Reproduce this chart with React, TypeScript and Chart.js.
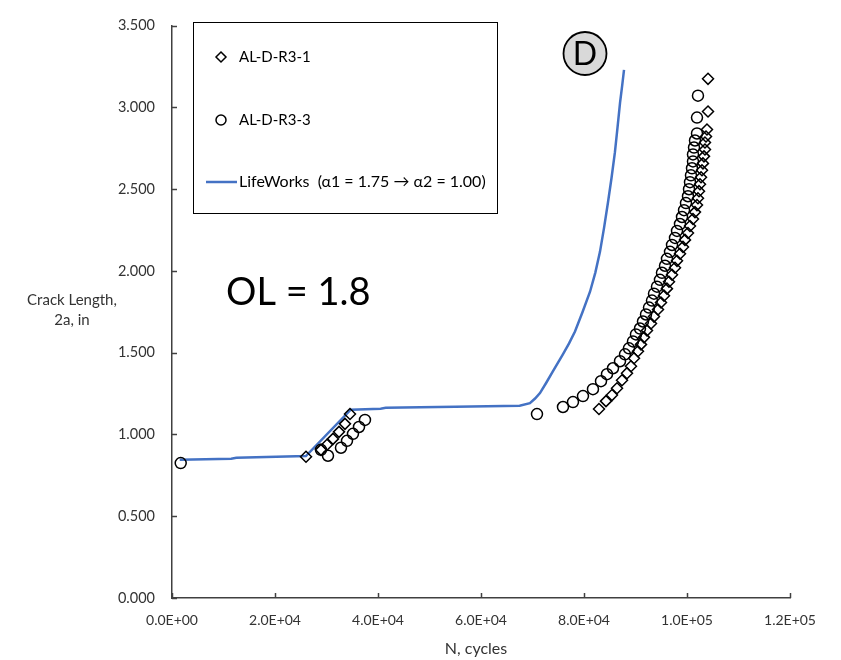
import React, { useEffect, useRef } from 'react';
import { Chart, registerables } from 'chart.js';

Chart.register(...registerables);

const FONT = 'Lato, "Open Sans", "DejaVu Sans", sans-serif';
const AXIS_COLOR = '#404040';
const TEXT_COLOR = '#333333';
const BLUE = '#4472C4';

// ---- Data ----
// AL-D-R3-1 (diamonds)
const r31N = [
  26020, 28930, 30100, 31260, 32430, 33590, 34560,
  82910, 84270, 85430, 86410, 87380, 88350, 89120, 89710, 90480, 91070,
  91650, 92230, 93010, 93590, 94370, 94950, 95530, 96110, 96500, 97090,
  97670, 98060, 98640, 99220, 99610, 100190, 100580, 101160, 101550, 101940,
  102130, 102330, 102520, 102720, 102910, 103100, 103300, 103490, 103490,
  103690, 103880, 104080, 104080,
];
const r31A = [
  0.864, 0.906, 0.937, 0.973, 1.016, 1.065, 1.125,
  1.156, 1.204, 1.241, 1.283, 1.332, 1.375, 1.417, 1.466, 1.509, 1.551,
  1.594, 1.636, 1.679, 1.721, 1.764, 1.807, 1.849, 1.892, 1.934, 1.977,
  2.020, 2.062, 2.105, 2.147, 2.190, 2.232, 2.275, 2.318, 2.360, 2.403,
  2.445, 2.488, 2.530, 2.573, 2.616, 2.658, 2.701, 2.743, 2.786,
  2.822, 2.865, 2.975, 3.175,
];

// AL-D-R3-3 (circles)
const r33N = [
  1690, 28930, 30290, 32810, 33980, 35140, 36310, 37470, 70870,
  75920, 77860, 79800, 81740, 83300, 84460, 85630, 86990, 87960, 88730,
  89510, 90090, 90870, 91450, 92040, 92620, 93200, 93590, 94170, 94750,
  95140, 95730, 96110, 96700, 97090, 97670, 98060, 98640, 99030, 99420,
  99800, 100190, 100390, 100580, 100770, 100970, 101160, 101160, 101360,
  101550, 101940, 101940, 102130,
];
const r33A = [
  0.825, 0.906, 0.870, 0.919, 0.961, 1.004, 1.046, 1.089, 1.125,
  1.168, 1.198, 1.235, 1.277, 1.326, 1.369, 1.405, 1.448, 1.490, 1.527,
  1.569, 1.612, 1.648, 1.691, 1.734, 1.776, 1.819, 1.861, 1.904, 1.946,
  1.989, 2.032, 2.074, 2.117, 2.159, 2.202, 2.245, 2.287, 2.330, 2.372,
  2.415, 2.457, 2.500, 2.543, 2.585, 2.628, 2.670, 2.713, 2.755,
  2.798, 2.841, 2.938, 3.072,
];

// LifeWorks prediction
const lifeN = [
  1500, 11500, 12500, 26000, 34700, 40500, 41500, 55000, 67500, 69500,
  70500, 71450, 72700, 73980, 75900, 77100, 78250, 79700, 81170, 82200,
  83100, 83900, 84660, 85350, 86000, 86500, 87000, 87400, 87770,
];
const lifeA = [
  0.845, 0.851, 0.857, 0.868, 1.152, 1.158, 1.163, 1.170, 1.176, 1.192,
  1.220, 1.253, 1.318, 1.387, 1.490, 1.557, 1.630, 1.748, 1.873, 1.990,
  2.117, 2.265, 2.420, 2.570, 2.725, 2.875, 3.030, 3.130, 3.230,
];

const seriesLabels = ['AL-D-R3-1', 'AL-D-R3-3', 'LifeWorks  (\u03b11 = 1.75 \u2192 \u03b12 = 1.00)'];
const xTicks = [0, 20000, 40000, 60000, 80000, 100000, 120000];
const yTicks = [0, 0.5, 1.0, 1.5, 2.0, 2.5, 3.0, 3.5];
const yTitle = ['Crack Length,', '2a, in'];
const xTitle = 'N, cycles';
const note = 'OL = 1.8';
const badge = 'D';

const zip = (xs: number[], ys: number[]) => xs.map((x, i) => ({ x, y: ys[i] }));

const fmtExp = (v: number) => {
  if (v === 0) return '0.0E+00';
  const e = Math.floor(Math.log10(Math.abs(v)) + 1e-9);
  const m = v / Math.pow(10, e);
  return m.toFixed(1) + 'E' + (e < 0 ? '-' : '+') + String(Math.abs(e)).padStart(2, '0');
};

const drawDiamond = (ctx: CanvasRenderingContext2D, x: number, y: number, r: number) => {
  ctx.beginPath();
  ctx.moveTo(x, y - r);
  ctx.lineTo(x + r, y);
  ctx.lineTo(x, y + r);
  ctx.lineTo(x - r, y);
  ctx.closePath();
  ctx.stroke();
};

const overlay = {
  id: 'overlay',
  afterDraw(chart: any) {
    const { ctx, chartArea, scales } = chart;
    const xs = scales.x;
    const ys = scales.y;
    ctx.save();
    // inward tick marks
    ctx.strokeStyle = AXIS_COLOR;
    ctx.lineWidth = 1.5;
    xs.ticks.forEach((t: any) => {
      const px = Math.round(xs.getPixelForValue(t.value)) + 0.5;
      ctx.beginPath();
      ctx.moveTo(px, chartArea.bottom);
      ctx.lineTo(px, chartArea.bottom - 5);
      ctx.stroke();
    });
    ys.ticks.forEach((t: any) => {
      const py = Math.round(ys.getPixelForValue(t.value)) + 0.5;
      ctx.beginPath();
      ctx.moveTo(chartArea.left, py);
      ctx.lineTo(chartArea.left + 5, py);
      ctx.stroke();
    });

    // axis titles
    ctx.fillStyle = TEXT_COLOR;
    ctx.font = `15px ${FONT}`;
    ctx.textAlign = 'center';
    ctx.textBaseline = 'middle';
    ctx.fillText(yTitle[0], 72, 300);
    ctx.fillText(yTitle[1], 72, 320);
    ctx.font = `16px ${FONT}`;
    ctx.fillText(xTitle, 476, 649);

    // OL note
    ctx.fillStyle = '#000';
    ctx.font = `38px ${FONT}`;
    ctx.textAlign = 'left';
    ctx.textBaseline = 'alphabetic';
    ctx.fillText(note, 226, 305);

    // D badge
    ctx.beginPath();
    ctx.arc(585, 53.5, 21.5, 0, Math.PI * 2);
    ctx.fillStyle = '#d9d9d9';
    ctx.fill();
    ctx.strokeStyle = '#000';
    ctx.lineWidth = 1.8;
    ctx.stroke();
    ctx.fillStyle = '#000';
    ctx.font = `32px ${FONT}`;
    ctx.textAlign = 'center';
    ctx.fillText(badge, 585, 65);

    // legend box
    ctx.strokeStyle = '#000';
    ctx.lineWidth = 1;
    ctx.strokeRect(193.5, 22.5, 304, 191);
    ctx.lineWidth = 1.5;
    drawDiamond(ctx, 221, 57, 5);
    ctx.beginPath();
    ctx.arc(221, 120, 5, 0, Math.PI * 2);
    ctx.stroke();
    ctx.strokeStyle = BLUE;
    ctx.lineWidth = 2.5;
    ctx.beginPath();
    ctx.moveTo(206, 182);
    ctx.lineTo(237, 182);
    ctx.stroke();
    ctx.fillStyle = '#000';
    ctx.font = `15px ${FONT}`;
    ctx.textAlign = 'left';
    ctx.textBaseline = 'middle';
    ctx.fillText(seriesLabels[0], 239, 57);
    ctx.fillText(seriesLabels[1], 239, 120);
    ctx.font = `16px ${FONT}`;
    ctx.fillText(seriesLabels[2], 239, 182);
    ctx.restore();
  },
};

export default function App() {
  const ref = useRef<HTMLCanvasElement | null>(null);
  useEffect(() => {
    if (!ref.current) return;
    const chart = new Chart(ref.current, {
      type: 'scatter',
      data: {
        datasets: [
          {
            label: seriesLabels[0],
            data: zip(r31N, r31A),
            pointStyle: 'rectRot',
            pointRadius: 5.5,
            pointBorderWidth: 1.5,
            borderColor: '#000',
            backgroundColor: 'rgba(0,0,0,0)',
            order: 1,
          },
          {
            label: seriesLabels[1],
            data: zip(r33N, r33A),
            pointStyle: 'circle',
            pointRadius: 5.5,
            pointBorderWidth: 1.5,
            borderColor: '#000',
            backgroundColor: 'rgba(0,0,0,0)',
            order: 1,
          },
          {
            label: seriesLabels[2],
            data: zip(lifeN, lifeA),
            showLine: true,
            pointRadius: 0,
            borderColor: BLUE,
            borderWidth: 2.5,
            tension: 0,
            order: 2,
          } as any,
        ],
      },
      options: {
        animation: false,
        responsive: false,
        layout: { padding: { left: 0, top: 22, right: 51, bottom: 0 } },
        plugins: {
          legend: { display: false },
          tooltip: { enabled: false },
        },
        scales: {
          x: {
            type: 'linear',
            min: 0,
            max: 120000,
            afterBuildTicks: (s: any) => {
              s.ticks = xTicks.map((v) => ({ value: v }));
            },
            afterFit: (s: any) => {
              s.height = 62;
            },
            grid: { display: false, drawTicks: false },
            border: { display: true, color: AXIS_COLOR, width: 1.5 },
            ticks: {
              padding: 14,
              color: TEXT_COLOR,
              font: { family: FONT, size: 14 },
              maxRotation: 0,
              autoSkip: false,
              callback: (v: any) => fmtExp(Number(v)),
            },
          },
          y: {
            type: 'linear',
            min: 0,
            max: 3.5,
            afterBuildTicks: (s: any) => {
              s.ticks = yTicks.map((v) => ({ value: v }));
            },
            afterFit: (s: any) => {
              s.width = 172;
            },
            grid: { display: false, drawTicks: false },
            border: { display: true, color: AXIS_COLOR, width: 1.5 },
            ticks: {
              padding: 17,
              color: TEXT_COLOR,
              font: { family: FONT, size: 14.5 },
              autoSkip: false,
              callback: (v: any) => Number(v).toFixed(3),
            },
          },
        },
      },
      plugins: [overlay],
    });
    return () => chart.destroy();
  }, []);

  return (
    <div style={{ position: 'absolute', left: 0, top: 0, width: 841, height: 660, background: '#fff' }}>
      <canvas ref={ref} width={841} height={660} style={{ display: 'block' }} />
    </div>
  );
}
